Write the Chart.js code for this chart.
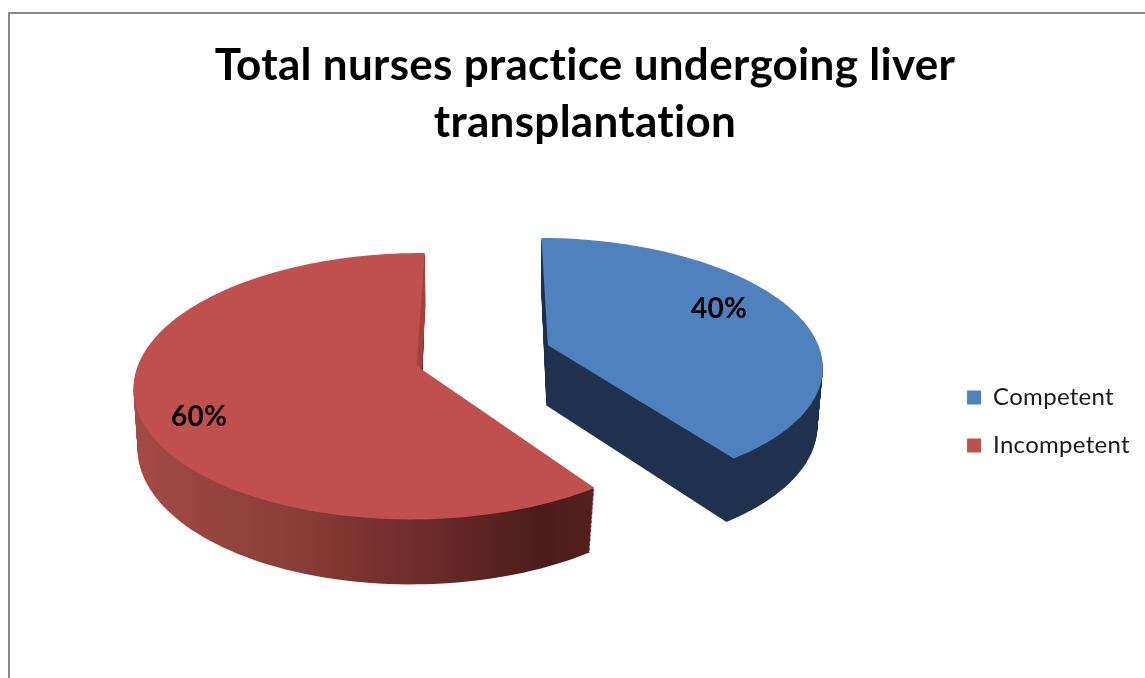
<!DOCTYPE html>
<html>
<head>
<meta charset="utf-8">
<title>Total nurses practice undergoing liver transplantation</title>
<script src="https://cdn.jsdelivr.net/npm/chart.js@4/dist/chart.umd.min.js"></script>
<style>
    html, body { margin: 0; padding: 0; background: #fff; overflow: hidden; }
    #frame { position: absolute; left: 8px; top: 12px; width: 1200px; height: 700px; border-left: 2px solid #888; border-top: 2px solid #888; }
    #chart { position: absolute; left: 0; top: 0; }
</style>
</head>
<body>
<div id="frame"></div>
<canvas id="chart" width="1145" height="678"></canvas>
<script>
const titleLines = ['Total nurses practice undergoing liver', 'transplantation'];
const categories = ['Competent', 'Incompetent'];
const percentages = [40, 60];
const sliceColors = ['#4f81bd', '#c0504d'];
const fontName = 'Lato, "Open Sans", sans-serif';

// Chart.js only knows flat pies, so the arcs it computes get projected here
const view = { x0: 461, y0: 369, shiftX: -40, scaleX: 285, scaleY: 131, persp: 0.131 };
const explode = 0.235;
const origin = [0.2235, -0.0726];
const sliceLift = [-0.043, 0];
const sliceNudgeX = [0.005, 0];
const rimScaleX = [0.968, 0.985];
const rimScaleY = [0.98, 1];
const rimShiftX = [0.004, -0.012];
const rimShiftY = [0.015, 0];
const labelRadius = [0.7, 0.8];
const labelNudge = [[-6, -11], [4, 16]];

function project(x, y, z) {
    const w = 1 - view.persp * y;
    let sx = view.x0 + (view.shiftX + view.scaleX * x) / w;
    let sy = view.y0 + view.scaleY * y / w;
    sx -= z * 0.024 * Math.max(0, 0.55 + 0.6 * y) * (sx - 405);
    sy += z * (61 + 4 * y);
    return [sx, sy];
}

function sliceCenter(arc, index) {
    const mid = (arc.startAngle + arc.endAngle) / 2;
    return [
        explode * Math.cos(mid) + origin[0] + sliceNudgeX[index],
        explode * Math.sin(mid) + origin[1] + sliceLift[index]
    ];
}

function rimPoint(c, angle, index, z) {
    return project(
        c[0] + rimShiftX[index] + rimScaleX[index] * Math.cos(angle),
        c[1] + rimShiftY[index] + rimScaleY[index] * Math.sin(angle),
        z
    );
}

function slicePath(ctx, arc, index, z) {
    const c = sliceCenter(arc, index);
    ctx.beginPath();
    let p = project(c[0], c[1], z);
    ctx.moveTo(p[0], p[1]);
    for (let i = 0; i <= 120; i++) {
        const a = arc.startAngle + (arc.endAngle - arc.startAngle) * i / 120;
        p = rimPoint(c, a, index, z);
        ctx.lineTo(p[0], p[1]);
    }
    ctx.closePath();
}

function setTextSpacing(chart) {
    // a little spacing also turns off Lato's "ti" ligature
    chart.ctx.letterSpacing = '0.3px';
}

const pie3d = {
    id: 'pie3d',
    beforeLayout: setTextSpacing,
    beforeDraw: setTextSpacing,
    beforeDatasetsDraw(chart) {
        const ctx = chart.ctx;
        const arcs = chart.getDatasetMeta(0).data;

        // side walls first: the slice outline stacked from the bottom up
        const redWall = ctx.createLinearGradient(134, 0, 594, 0);
        redWall.addColorStop(0, '#a44b44');
        redWall.addColorStop(0.35, '#8a3d37');
        redWall.addColorStop(0.65, '#6b2a28');
        redWall.addColorStop(0.88, '#4c1c1a');
        redWall.addColorStop(1, '#541f1d');
        const wallColors = ['#1f3350', redWall];

        arcs.forEach((arc, i) => {
            ctx.fillStyle = wallColors[i];
            for (let z = 1; z > 0; z -= 0.02) {
                slicePath(ctx, arc, i, z);
                ctx.fill();
            }
        });

        arcs.forEach((arc, i) => {
            ctx.fillStyle = sliceColors[i];
            slicePath(ctx, arc, i, 0);
            ctx.fill();
        });

        // thin lit edge on the red slice's back cut
        const red = arcs[1];
        const c = sliceCenter(red, 1);
        const top = rimPoint(c, red.endAngle, 1, 0);
        const apex = project(c[0], c[1], 0);
        ctx.fillStyle = '#a4403d';
        ctx.beginPath();
        ctx.moveTo(top[0], top[1]);
        ctx.lineTo(top[0] + 1, top[1] + 52);
        ctx.lineTo(apex[0] + 1, apex[1]);
        ctx.lineTo(apex[0] - 4, apex[1] - 4);
        ctx.closePath();
        ctx.fill();

        ctx.fillStyle = '#000';
        ctx.font = 'bold 28px ' + fontName;
        ctx.textAlign = 'center';
        ctx.textBaseline = 'middle';
        arcs.forEach((arc, i) => {
            const mid = (arc.startAngle + arc.endAngle) / 2;
            const r = explode + labelRadius[i];
            const p = project(r * Math.cos(mid) + origin[0], r * Math.sin(mid) + origin[1] + sliceLift[i], 0);
            ctx.fillText(percentages[i] + '%', p[0] + labelNudge[i][0], p[1] + labelNudge[i][1]);
        });
        return false;
    }
};

new Chart(document.getElementById('chart'), {
    type: 'pie',
    data: {
        labels: categories,
        datasets: [{
            data: percentages,
            backgroundColor: sliceColors,
            borderWidth: 0
        }]
    },
    options: {
        responsive: false,
        animation: false,
        rotation: 0.5,
        layout: { padding: { left: 30, right: 5, top: 37, bottom: -128 } },
        plugins: {
            title: {
                display: true,
                text: titleLines,
                color: '#000',
                font: { family: fontName, size: 44, weight: 'bold', lineHeight: 1.3 },
                padding: { top: 0, bottom: 14 }
            },
            legend: {
                position: 'right',
                labels: {
                    boxWidth: 14,
                    boxHeight: 14,
                    padding: 24,
                    color: '#1a1a1a',
                    font: { family: fontName, size: 24 }
                }
            },
            tooltip: { enabled: false }
        }
    },
    plugins: [pie3d]
});
</script>
</body>
</html>
